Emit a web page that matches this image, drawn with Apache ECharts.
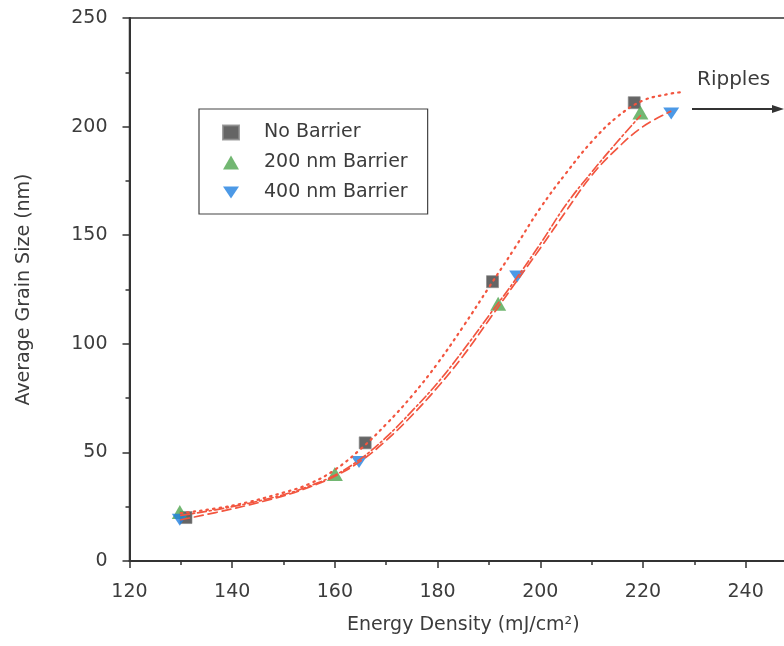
<!DOCTYPE html>
<html>
<head>
<meta charset="utf-8">
<script src="https://cdn.jsdelivr.net/npm/echarts@6/dist/echarts.min.js"></script>
<style>
  html, body { margin: 0; padding: 0; background: #fff; }
  #chart { width: 784px; height: 646px; }
</style>
</head>
<body>
<div id="chart"></div>
<script>
// measured points [energy density, grain size]
const noBarrier = [[131, 20], [165.9, 54.4], [190.7, 128.6], [218.3, 211]];
const barrier200 = [[129.8, 22.6], [160, 40], [191.8, 118.4], [219.5, 206.5]];
const barrier400 = [[129.8, 19], [164.7, 45.6], [195.5, 131], [225.5, 206]];

// fit curves
const fitNoBarrier = [[130, 22], [140, 25.5], [150, 31.5], [155, 35.5], [160, 42], [165, 51.5],
  [170, 63], [175, 76], [180, 91], [185, 108], [190, 126], [195, 144], [200, 162.5],
  [205, 178.5], [210, 193], [215, 204.5], [220, 212], [225, 215], [228, 216]];
const fit200 = [[130, 21], [140, 25], [150, 30.5], [155, 34.5], [160, 39.5], [165, 47], [170, 57],
  [175, 69], [180, 82], [185, 97], [190, 113], [195, 129], [200, 146], [205, 164], [210, 179],
  [215, 193], [219.5, 205]];
const fit400 = [[130, 19], [140, 24], [150, 30], [155, 34], [160, 39], [165, 46], [170, 55.5],
  [175, 67], [180, 80], [185, 94.5], [190, 111], [195, 127.5], [200, 144], [205, 161],
  [210, 177.5], [215, 190], [220, 200], [225.4, 207]];

const seriesNames = ['No Barrier', '200 nm Barrier', '400 nm Barrier'];

const font = 'DejaVu Sans';
const textColor = '#3c3c3c';
const fitColor = '#f2553f';
const downTri = 'path://M0,0 L16,0 L8,12 Z';

const chart = echarts.init(document.getElementById('chart'));

const fitLine = (data, dash, width) => ({
  type: 'line', data: data, smooth: 0.4, symbol: 'none', z: 5, silent: true,
  lineStyle: { color: fitColor, width: width, type: dash, cap: 'round' }
});

chart.setOption({
  backgroundColor: '#fff',
  animation: false,
  textStyle: { fontFamily: font },
  grid: {
    left: 129.5, right: -13, top: 18, bottom: 85, outerBoundsMode: 'none',
    show: true, borderColor: '#333', borderWidth: 1.5
  },
  xAxis: {
    type: 'value', min: 120, max: 250, interval: 20,
    name: 'Energy Density (mJ/cm²)', nameLocation: 'middle', nameGap: 55,
    nameTextStyle: { fontSize: 19, color: textColor, fontFamily: font },
    axisLine: { lineStyle: { color: '#333', width: 2 } },
    axisTick: { length: 7, lineStyle: { color: '#333', width: 1.5 } },
    minorTick: { show: true, splitNumber: 2, length: 4, lineStyle: { color: '#333', width: 1.5 } },
    axisLabel: { fontSize: 19, color: textColor, margin: 22, fontFamily: font, showMaxLabel: false },
    splitLine: { show: false }
  },
  yAxis: {
    type: 'value', min: 0, max: 250, interval: 50,
    name: 'Average Grain Size (nm)', nameLocation: 'middle', nameGap: 96,
    nameTextStyle: { fontSize: 19, color: textColor, fontFamily: font },
    axisLine: { lineStyle: { color: '#333', width: 2 } },
    axisTick: { length: 7, lineStyle: { color: '#333', width: 1.5 } },
    minorTick: { show: true, splitNumber: 2, length: 4, lineStyle: { color: '#333', width: 1.5 } },
    axisLabel: { fontSize: 19, color: textColor, margin: 22, fontFamily: font },
    splitLine: { show: false }
  },
  legend: {
    data: seriesNames, orient: 'vertical', left: 199, top: 109,
    padding: [14, 20, 12, 23], itemGap: 11, itemWidth: 16, itemHeight: 14,
    borderColor: '#444', borderWidth: 1.2, backgroundColor: '#fff',
    textStyle: { fontSize: 19, color: textColor, fontFamily: font, padding: [0, 0, 0, 20], lineHeight: 18 }
  },
  graphic: [
    { type: 'text', left: 697, top: 70, style: { text: 'Ripples', font: '20px "DejaVu Sans"', fill: textColor } },
    { type: 'line', shape: { x1: 692, y1: 109, x2: 778, y2: 109 }, style: { stroke: '#333', lineWidth: 1.8 } },
    { type: 'polygon', shape: { points: [[784, 109], [772, 105], [772, 113]] }, style: { fill: '#333' } }
  ],
  series: [
    fitLine(fitNoBarrier, [1.5, 5], 2.2),
    fitLine(fit200, [9, 3, 2, 3], 1.7),
    fitLine(fit400, [9, 5], 1.7),
    { name: seriesNames[0], type: 'scatter', data: noBarrier, symbol: 'rect', symbolSize: 12, z: 3,
      itemStyle: { color: '#3e3e3e', borderColor: '#888', borderWidth: 0.8 } },
    { name: seriesNames[1], type: 'scatter', data: barrier200, symbol: 'triangle', symbolSize: [16, 14], z: 3,
      itemStyle: { color: '#4fa54f' } },
    { name: seriesNames[2], type: 'scatter', data: barrier400, symbol: downTri, symbolSize: [16, 12], z: 3,
      itemStyle: { color: '#1f80e0' } }
  ]
});
</script>
</body>
</html>
